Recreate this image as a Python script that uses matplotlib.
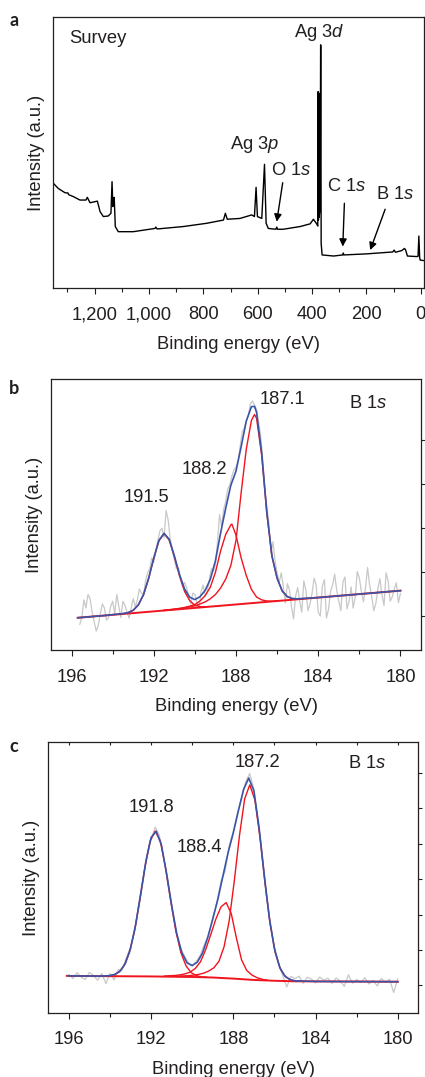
import numpy as np
import matplotlib
matplotlib.use("Agg")
import matplotlib.pyplot as plt
from matplotlib.ticker import MultipleLocator, FixedLocator, FuncFormatter

plt.rcParams['font.family'] = ['Liberation Sans', 'DejaVu Sans']
plt.rcParams['mathtext.fontset'] = 'custom'
plt.rcParams['mathtext.rm'] = 'Liberation Sans'
plt.rcParams['mathtext.it'] = 'Liberation Sans:italic'

INK = '#231f20'
GREY = '#c8c8c8'
BLUE = '#3a55a8'
RED = '#f0141e'

# ---- panel a: survey spectrum (binding energy eV, intensity a.u.)
survey_E = [1352, 1334, 1309, 1298, 1296, 1279, 1254, 1232, 1227, 1217, 1199, 1190,
            1180, 1168, 1150, 1140, 1136, 1133, 1131, 1128, 1124, 1113, 1058, 978,
            975, 970, 874, 788, 726, 719, 712, 665, 622, 612, 606, 601, 585, 575,
            569, 561, 533, 530, 527, 506, 444, 407, 395, 383, 379, 377.5, 376.5,
            375.5, 374.5, 373, 370, 368.5, 367.8, 366.5, 363, 321, 287, 285, 283,
            199, 103, 98, 93, 70, 60, 56, 49, 15, 10, 7, 4, 2, -12]
survey_I = [38.6, 36.7, 35.1, 35.0, 34.4, 33.7, 32.4, 32.4, 33.4, 31.4, 31.8, 32.0,
            28.1, 26.3, 26.5, 27.5, 39.2, 30.0, 33.0, 33.4, 22.6, 20.7, 20.7, 21.9,
            22.4, 21.7, 22.6, 23.8, 25.0, 27.5, 25.3, 25.6, 26.9, 26.3, 37.1, 26.3,
            25.6, 45.6, 23.8, 21.9, 21.6, 22.4, 21.6, 21.6, 22.6, 23.6, 25.3, 23.6,
            22.8, 72.5, 25.0, 72.0, 26.0, 27.0, 30.0, 89.8, 89.5, 16.4, 12.1, 11.7,
            12.1, 12.8, 12.1, 12.5, 13.2, 13.9, 13.1, 13.7, 14.5, 14.0, 11.7, 11.5,
            11.6, 19.1, 11.0, 10.2, 10.0]

# ---- panel b: B 1s
b_raw_E = [195.6, 195.5, 195.4, 195.3, 195.2, 195.1, 195.0, 194.9, 194.8, 194.7,
           194.6, 194.5, 194.4, 194.3, 194.2, 194.1, 194.0, 193.9, 193.8, 193.7,
           193.6, 193.5, 193.4, 193.3, 193.2, 193.1, 193.0, 192.9, 192.8, 192.7,
           192.6, 192.5, 192.4, 192.3, 192.2, 192.1, 192.0, 191.9, 191.8, 191.7,
           191.6, 191.5, 191.4, 191.3, 191.2, 191.1, 191.0, 190.9, 190.8, 190.7,
           190.6, 190.5, 190.4, 190.3, 190.2, 190.1, 190.0, 189.9, 189.8, 189.7,
           189.6, 189.5, 189.4, 189.3, 189.2, 189.1, 189.0, 188.9, 188.8, 188.7,
           188.6, 188.5, 188.4, 188.3, 188.2, 188.1, 188.0, 187.9, 187.8, 187.7,
           187.6, 187.5, 187.4, 187.3, 187.2, 187.1, 187.0, 186.9, 186.8, 186.7,
           186.6, 186.5, 186.4, 186.3, 186.2, 186.1, 186.0, 185.9, 185.8, 185.7,
           185.6, 185.5, 185.4, 185.3, 185.2, 185.1, 185.0, 184.9, 184.8, 184.7,
           184.6, 184.5, 184.4, 184.3, 184.2, 184.1, 184.0, 183.9, 183.8, 183.7,
           183.6, 183.5, 183.4, 183.3, 183.2, 183.1, 183.0, 182.9, 182.8, 182.7,
           182.6, 182.5, 182.4, 182.3, 182.2, 182.1, 182.0, 181.9, 181.8, 181.7,
           181.6, 181.5, 181.4, 181.3, 181.2, 181.1, 181.0, 180.9, 180.8, 180.7,
           180.6, 180.5, 180.4, 180.3, 180.2, 180.1, 180.0]
b_raw_I = [9.5, 12.0, 18.5, 15.5, 20.5, 19.0, 14.0, 10.5, 7.0, 9.0,
           13.5, 17.0, 15.5, 11.0, 12.0, 16.0, 18.0, 13.5, 20.5, 16.0,
           12.0, 18.0, 16.5, 14.0, 11.8, 15.5, 19.0, 16.0, 18.5, 22.5,
           21.0, 20.5, 25.5, 28.5, 30.0, 34.0, 32.5, 36.5, 40.5, 44.0,
           45.0, 41.5, 51.5, 48.0, 41.0, 37.0, 33.3, 30.0, 30.3, 26.5,
           23.5, 25.0, 23.0, 19.5, 17.0, 21.0, 20.6, 17.5, 15.5, 21.5,
           24.0, 20.0, 21.5, 26.0, 30.0, 29.0, 31.5, 40.0, 50.0, 45.5,
           52.0, 55.0, 59.5, 61.0, 64.3, 66.5, 67.6, 70.0, 75.3, 80.5,
           82.0, 84.5, 86.5, 91.0, 92.0, 90.5, 88.8, 84.0, 79.2, 70.0,
           59.6, 53.0, 46.9, 35.5, 40.0, 33.0, 28.5, 25.0, 28.5, 23.5,
           17.3, 24.5, 22.3, 16.0, 11.5, 20.0, 23.0, 18.0, 14.0, 25.5,
           22.0, 14.5, 17.0, 21.0, 26.5, 24.0, 14.0, 12.5, 23.5, 26.0,
           11.8, 15.0, 21.7, 24.0, 28.0, 22.0, 18.0, 14.5, 25.1, 27.0,
           15.2, 18.0, 23.3, 15.5, 19.5, 29.0, 26.6, 21.5, 17.8, 23.0,
           30.5, 24.0, 20.0, 14.5, 17.1, 22.5, 26.3, 20.5, 16.4, 28.5,
           25.5, 18.0, 19.6, 22.5, 24.8, 17.5, 20.9]
b_fit_E = [195.7, 194.5, 193.5, 193.25, 193.0, 192.75, 192.5, 192.25, 192.0, 191.75,
           191.5, 191.25, 191.0, 190.75, 190.5, 190.25, 190.0, 189.75, 189.5, 189.25,
           189.0, 188.75, 188.5, 188.25, 188.0, 187.75, 187.5, 187.25, 187.1, 187.0,
           186.75, 186.5, 186.25, 186.0, 185.75, 185.5, 185.25, 185.0, 184.0, 182.0, 180.0]
b_fit_I = [11.9, 12.65, 13.45, 13.8, 14.7, 16.7, 20.5, 26.5, 34.0, 40.5,
           43.1, 40.9, 34.8, 27.9, 22.5, 19.5, 18.6, 19.7, 22.0, 26.1,
           33.0, 43.2, 52.4, 60.9, 66.1, 75.1, 84.6, 89.9, 90.0, 87.8,
           72.8, 50.8, 34.7, 26.5, 21.75, 19.7, 19.0, 18.9, 19.36, 20.64, 21.92]
b_base_E = [195.7, 180.0]
b_base_I = [11.9, 21.92]
b_p1_E = [193.5, 193.25, 193.0, 192.75, 192.5, 192.25, 192.0, 191.75, 191.5, 191.25,
          191.0, 190.75, 190.5, 190.25, 190.0, 189.75, 189.5]
b_p1_I = [13.4, 13.8, 14.6, 16.6, 20.3, 26.4, 33.9, 40.3, 43.0, 40.6,
          34.5, 27.4, 21.6, 18.2, 16.5, 16.0, 15.9]
b_p2_E = [191.5, 191.0, 190.75, 190.5, 190.25, 190.0, 189.75, 189.5, 189.25, 189.0,
          188.75, 188.5, 188.25, 188.2, 188.0, 187.75, 187.5, 187.25, 187.0, 186.75,
          186.5, 186.25, 186.0]
b_p2_I = [14.7, 15.1, 15.35, 15.7, 16.2, 16.8, 18.1, 20.05, 23.2, 28.7,
          36.6, 42.7, 46.25, 46.5, 42.4, 34.0, 27.5, 22.4, 19.55, 18.5,
          18.1, 18.0, 18.1]
b_p3_E = [191.5, 191.0, 190.5, 190.25, 190.0, 189.75, 189.5, 189.25, 189.0, 188.75,
          188.5, 188.25, 188.0, 187.75, 187.5, 187.25, 187.1, 187.0, 186.75, 186.5,
          186.25, 186.0, 185.75, 185.5, 185.25, 185.0, 184.75]
b_p3_I = [14.6, 15.0, 15.6, 15.9, 16.3, 17.0, 17.75, 18.9, 20.5, 22.9,
          26.2, 31.25, 40.5, 58.1, 74.2, 84.8, 87.0, 85.65, 71.9, 50.5,
          34.6, 26.5, 21.75, 19.65, 18.95, 18.85, 18.9]

# ---- panel c: B 1s
c_raw_E = [196.0, 195.8, 195.6, 195.4, 195.2, 195.0, 194.8, 194.6, 194.4, 194.2,
           194.0, 193.8, 193.6, 193.4, 193.2, 193.0, 192.8, 192.6, 192.4, 192.2,
           192.0, 191.8, 191.6, 191.4, 191.2, 191.0, 190.8, 190.6, 190.4, 190.2,
           190.0, 189.8, 189.6, 189.4, 189.2, 189.0, 188.8, 188.6, 188.4, 188.2,
           188.0, 187.8, 187.6, 187.4, 187.2, 187.0, 186.8, 186.6, 186.4, 186.2,
           186.0, 185.8, 185.6, 185.4, 185.2, 185.0, 184.8, 184.6, 184.4, 184.2,
           184.0, 183.8, 183.6, 183.4, 183.2, 183.0, 182.8, 182.6, 182.4, 182.2,
           182.0, 181.8, 181.6, 181.4, 181.2, 181.0, 180.8, 180.6, 180.4, 180.2, 180.0]
c_raw_I = [14.1, 12.6, 14.8, 13.1, 12.3, 14.9, 13.7, 12.0, 14.5, 10.8,
           14.5, 12.1, 15.9, 15.9, 20.4, 24.25, 30.2, 40.3, 49.2, 58.4,
           63.95, 68.6, 65.6, 57.8, 49.7, 40.2, 30.6, 24.0, 21.4, 18.5,
           17.15, 18.9, 21.4, 25.4, 28.5, 35.2, 40.8, 48.7, 52.2, 61.7,
           67.0, 73.7, 79.1, 85.3, 88.4, 82.6, 71.1, 59.0, 44.3, 32.9,
           24.2, 18.5, 13.7, 9.5, 13.4, 12.56, 13.5, 10.85, 13.1, 12.4,
           11.05, 13.15, 12.05, 12.74, 10.84, 12.83, 11.72, 9.72, 14.0, 10.9,
           12.3, 11.2, 12.9, 10.59, 11.98, 9.88, 12.67, 11.27, 12.36, 7.46, 12.45]
c_fit_E = [196.0, 195.0, 194.5, 194.0, 193.75, 193.5, 193.25, 193.0, 192.75, 192.5,
           192.25, 192.0, 191.75, 191.5, 191.25, 191.0, 190.75, 190.5, 190.25, 190.0,
           189.75, 189.5, 189.25, 189.0, 188.75, 188.5, 188.25, 188.0, 187.75, 187.5,
           187.25, 187.0, 186.75, 186.5, 186.25, 186.0, 185.75, 185.5, 185.25, 185.0,
           184.0, 182.0, 180.0]
c_fit_I = [13.6, 13.55, 13.52, 13.7, 14.2, 15.4, 18.3, 23.75, 32.55, 44.1,
           56.05, 64.75, 67.05, 62.0, 51.5, 39.6, 29.1, 22.1, 18.4, 17.45,
           18.7, 22.0, 27.7, 34.6, 42.0, 50.7, 59.3, 66.5, 74.75, 82.5,
           86.7, 82.0, 68.55, 51.1, 35.05, 23.6, 16.85, 13.6, 12.25, 11.76,
           11.55, 11.5, 11.45]
c_base_E = [196.1, 192.0, 190.0, 189.0, 188.0, 187.0, 186.0, 185.0, 180.0]
c_base_I = [13.6, 13.4, 13.2, 13.0, 12.6, 12.1, 11.8, 11.6, 11.45]
c_p1_E = [194.3, 194.05, 193.8, 193.55, 193.3, 193.05, 192.8, 192.55, 192.3, 192.05,
          191.8, 191.55, 191.3, 191.05, 190.8, 190.55, 190.3, 190.05, 189.8, 189.55, 189.3]
c_p1_I = [13.5, 13.65, 14.0, 15.1, 17.5, 22.35, 30.45, 41.55, 53.7, 63.4,
          67.1, 63.4, 53.65, 41.45, 30.3, 22.15, 17.3, 14.8, 13.7, 13.26, 13.1]
c_p2_E = [191.35, 190.85, 190.6, 190.35, 190.1, 189.85, 189.6, 189.35, 189.1, 188.85,
          188.6, 188.35, 188.1, 187.85, 187.6, 187.35, 187.1, 186.85, 186.6, 186.35]
c_p2_I = [13.55, 13.75, 13.97, 14.34, 15.0, 16.35, 18.8, 23.2, 28.8, 34.6,
          39.1, 40.7, 36.64, 27.6, 19.54, 15.64, 13.94, 12.95, 12.35, 12.03]
c_p3_E = [190.7, 190.2, 189.95, 189.7, 189.45, 189.2, 188.95, 188.7, 188.45, 188.2,
          187.95, 187.7, 187.45, 187.2, 186.95, 186.7, 186.45, 186.2, 185.95, 185.7,
          185.45, 185.2, 184.95, 184.7]
c_p3_I = [13.5, 13.67, 13.88, 14.14, 14.59, 15.39, 16.58, 18.98, 24.38, 33.98,
          48.86, 65.5, 78.95, 84.18, 78.58, 64.58, 47.3, 32.34, 21.89, 15.94,
          13.19, 12.11, 11.72, 11.61]

FS = 13.2


def style(ax, right_ticks):
    for s in ax.spines.values():
        s.set_color(INK)
        s.set_linewidth(0.9)
    ax.set_ylim(0, 100)
    ax.yaxis.set_ticks_position('right')
    ax.yaxis.set_major_locator(FixedLocator(right_ticks))
    ax.tick_params(axis='y', which='both', direction='out', length=3,
                   width=0.8, color=INK, labelright=False, labelleft=False)
    ax.tick_params(axis='x', which='major', direction='out', length=4.5,
                   width=0.8, color=INK, labelsize=FS, labelcolor=INK, pad=9)
    ax.tick_params(axis='x', which='minor', direction='out', length=3,
                   width=0.8, color=INK)
    ax.set_xlabel('Binding energy (eV)', fontsize=FS, color=INK, labelpad=9)
    ax.set_ylabel('Intensity (a.u.)', fontsize=FS, color=INK, labelpad=6)
    ax.yaxis.set_label_position('left')


fig = plt.figure(figsize=(4.25, 10.77), dpi=100)

# panel a
ax = fig.add_axes([0.1255, 0.7329, 0.8722, 0.2511])
ax.plot(survey_E, survey_I, color='black', lw=1.0)
ax.set_xlim(1352, -12)
ax.xaxis.set_major_locator(MultipleLocator(200))
ax.xaxis.set_minor_locator(MultipleLocator(100))
ax.xaxis.set_major_formatter(FuncFormatter(lambda v, p: f'{int(v):,}'))
style(ax, [20, 30, 40, 50, 60, 70, 80, 90])
ax.text(0.042, 0.922, 'Survey', transform=ax.transAxes, fontsize=FS, color=INK,
        va='center', ha='left')
ax.text(374, 94.5, r'Ag 3$\mathit{d}$', fontsize=FS, color=INK, ha='center', va='center')
ax.text(611, 52.8, r'Ag 3$\mathit{p}$', fontsize=FS, color=INK, ha='center', va='center')
ax.text(478, 43.5, r'O 1$\mathit{s}$', fontsize=FS, color=INK, ha='center', va='center')
ax.text(272, 37.4, r'C 1$\mathit{s}$', fontsize=FS, color=INK, ha='center', va='center')
ax.text(94, 34.6, r'B 1$\mathit{s}$', fontsize=FS, color=INK, ha='center', va='center')
arrow = dict(arrowstyle='-|>', color='black', lw=1.0, mutation_scale=11, shrinkA=0, shrinkB=0)
ax.annotate('', xy=(530, 24.4), xytext=(508, 38.8), arrowprops=arrow)
ax.annotate('', xy=(287, 15.2), xytext=(281, 31.2), arrowprops=arrow)
ax.annotate('', xy=(186, 13.9), xytext=(131, 29.0), arrowprops=arrow)

# panel b
ax = fig.add_axes([0.12, 0.3965, 0.8706, 0.2513])
ax.plot(b_raw_E, b_raw_I, color=GREY, lw=0.9)
ax.plot(b_base_E, b_base_I, color=RED, lw=1.4)
for E, I in [(b_p1_E, b_p1_I), (b_p2_E, b_p2_I), (b_p3_E, b_p3_I)]:
    ax.plot(E, I, color=RED, lw=1.0)
ax.plot(b_fit_E, b_fit_I, color=BLUE, lw=1.2)
ax.set_xlim(197.0, 179.0)
ax.xaxis.set_major_locator(MultipleLocator(4))
ax.xaxis.set_minor_locator(MultipleLocator(2))
style(ax, [12.7, 28.9, 45.0, 61.2, 77.5])
ax.text(185.72, 92.4, '187.1', fontsize=FS, color=INK, ha='center', va='center')
ax.text(189.53, 66.7, '188.2', fontsize=FS, color=INK, ha='center', va='center')
ax.text(192.35, 56.4, '191.5', fontsize=FS, color=INK, ha='center', va='center')
ax.text(181.59, 91.1, r'B 1$\mathit{s}$', fontsize=FS, color=INK, ha='center', va='center')

# panel c
ax = fig.add_axes([0.1137, 0.0597, 0.8706, 0.2513])
ax.plot(c_raw_E, c_raw_I, color=GREY, lw=0.9)
ax.plot(c_base_E, c_base_I, color=RED, lw=1.4)
for E, I in [(c_p1_E, c_p1_I), (c_p2_E, c_p2_I), (c_p3_E, c_p3_I)]:
    ax.plot(E, I, color=RED, lw=1.0)
ax.plot(c_fit_E, c_fit_I, color=BLUE, lw=1.2)
ax.set_xlim(197.0, 179.0)
ax.xaxis.set_major_locator(MultipleLocator(4))
ax.xaxis.set_minor_locator(MultipleLocator(2))
style(ax, [10.2, 23.2, 36.1, 49.3, 62.3, 75.5, 88.7])
top = ax.secondary_xaxis('top')
top.xaxis.set_major_locator(MultipleLocator(2))
top.tick_params(direction='in', length=2.5, width=0.8, color=INK, labeltop=False)
top.spines['top'].set_visible(False)
ax.text(186.83, 92.4, '187.2', fontsize=FS, color=INK, ha='center', va='center')
ax.text(191.98, 75.9, '191.8', fontsize=FS, color=INK, ha='center', va='center')
ax.text(189.67, 61.1, '188.4', fontsize=FS, color=INK, ha='center', va='center')
ax.text(181.5, 92.1, r'B 1$\mathit{s}$', fontsize=FS, color=INK, ha='center', va='center')

# panel letters
for lab, y in [('a', 20), ('b', 388), ('c', 747)]:
    fig.text(14 / 425, 1 - y / 1077, lab, fontsize=13, fontweight='bold',
             family=['Lato', 'DejaVu Sans'], color=INK, ha='center', va='center')

fig.savefig('out.png', dpi=100)
